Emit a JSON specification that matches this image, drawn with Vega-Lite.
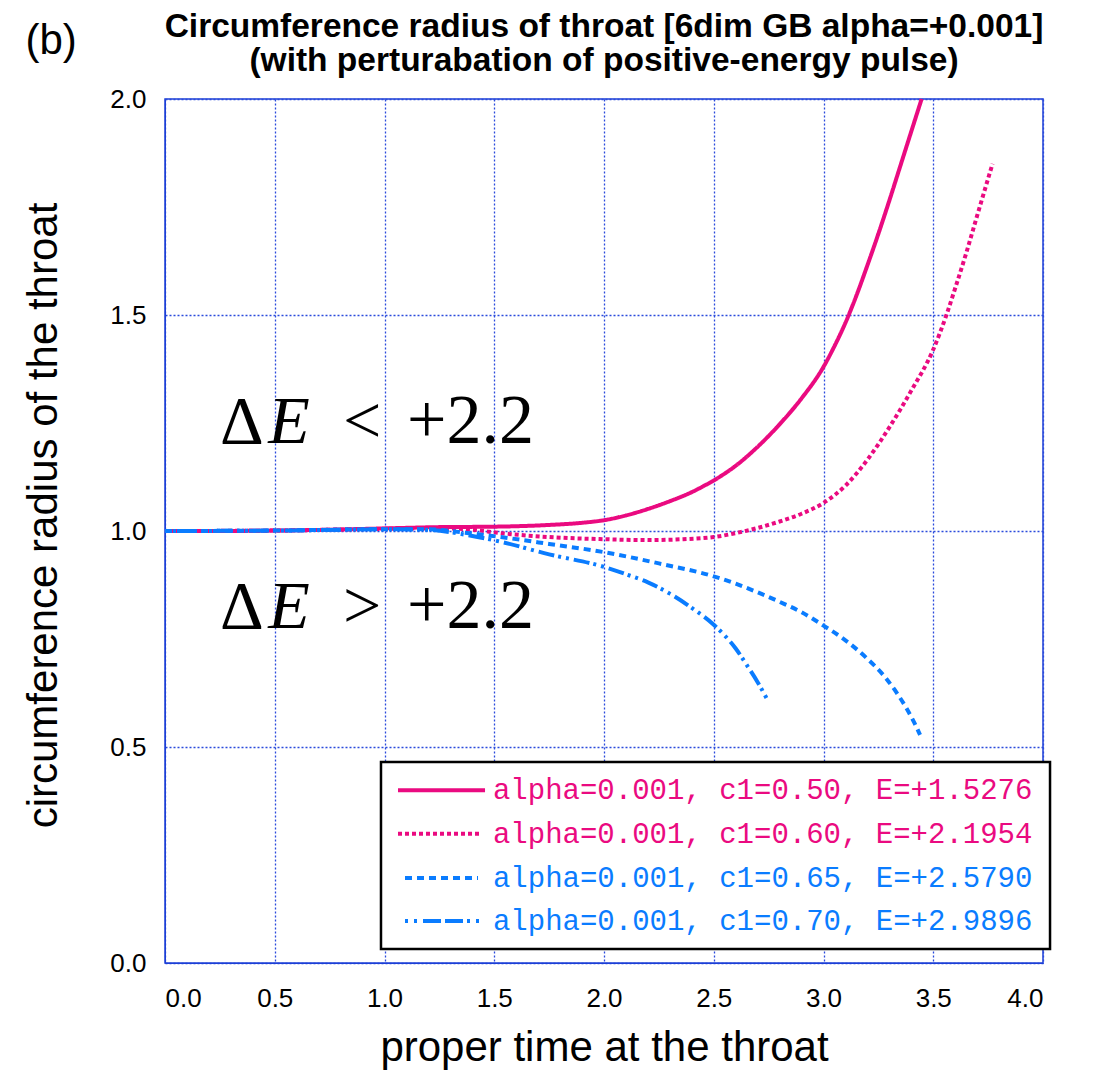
{
  "$schema": "https://vega.github.io/schema/vega-lite/v6.json",
  "width": 878,
  "height": 864,
  "autosize": {"type": "none"},
  "padding": {"left": 165, "top": 99, "right": 51, "bottom": 107},
  "background": "white",
  "data": {"values": [{}]},
  "config": {
    "view": {"stroke": "#1c3fd6", "strokeWidth": 1.5},
    "axis": {
      "labelFont": "Liberation Sans",
      "titleFont": "Liberation Sans",
      "labelColor": "black",
      "titleColor": "black",
      "titleFontWeight": "normal",
      "domainColor": "#1c3fd6",
      "gridColor": "#2a4bdc",
      "gridDash": [2, 2],
      "gridWidth": 1.3,
      "gridOpacity": 1,
      "ticks": false
    }
  },
  "datasets": {
    "curves": [
      {"t": 0.0, "r": 1.0, "series": "c1=0.50"},
      {"t": 0.25, "r": 1.0, "series": "c1=0.50"},
      {"t": 0.5, "r": 1.001, "series": "c1=0.50"},
      {"t": 0.75, "r": 1.003, "series": "c1=0.50"},
      {"t": 1.0, "r": 1.006, "series": "c1=0.50"},
      {"t": 1.25, "r": 1.009, "series": "c1=0.50"},
      {"t": 1.5, "r": 1.01, "series": "c1=0.50"},
      {"t": 1.75, "r": 1.014, "series": "c1=0.50"},
      {"t": 1.9, "r": 1.019, "series": "c1=0.50"},
      {"t": 2.0, "r": 1.025, "series": "c1=0.50"},
      {"t": 2.1, "r": 1.036, "series": "c1=0.50"},
      {"t": 2.2, "r": 1.051, "series": "c1=0.50"},
      {"t": 2.3, "r": 1.069, "series": "c1=0.50"},
      {"t": 2.4, "r": 1.09, "series": "c1=0.50"},
      {"t": 2.45, "r": 1.103, "series": "c1=0.50"},
      {"t": 2.5, "r": 1.117, "series": "c1=0.50"},
      {"t": 2.55, "r": 1.133, "series": "c1=0.50"},
      {"t": 2.6, "r": 1.151, "series": "c1=0.50"},
      {"t": 2.7, "r": 1.195, "series": "c1=0.50"},
      {"t": 2.8, "r": 1.247, "series": "c1=0.50"},
      {"t": 2.9, "r": 1.307, "series": "c1=0.50"},
      {"t": 3.0, "r": 1.38, "series": "c1=0.50"},
      {"t": 3.05, "r": 1.428, "series": "c1=0.50"},
      {"t": 3.1, "r": 1.482, "series": "c1=0.50"},
      {"t": 3.15, "r": 1.545, "series": "c1=0.50"},
      {"t": 3.2, "r": 1.615, "series": "c1=0.50"},
      {"t": 3.25, "r": 1.688, "series": "c1=0.50"},
      {"t": 3.3, "r": 1.765, "series": "c1=0.50"},
      {"t": 3.35, "r": 1.845, "series": "c1=0.50"},
      {"t": 3.4, "r": 1.925, "series": "c1=0.50"},
      {"t": 3.447, "r": 2.0, "series": "c1=0.50"},

      {"t": 0.0, "r": 1.0, "series": "c1=0.60"},
      {"t": 0.5, "r": 1.001, "series": "c1=0.60"},
      {"t": 1.0, "r": 1.005, "series": "c1=0.60"},
      {"t": 1.25, "r": 1.006, "series": "c1=0.60"},
      {"t": 1.4, "r": 1.003, "series": "c1=0.60"},
      {"t": 1.53, "r": 0.995, "series": "c1=0.60"},
      {"t": 1.75, "r": 0.986, "series": "c1=0.60"},
      {"t": 2.0, "r": 0.981, "series": "c1=0.60"},
      {"t": 2.2, "r": 0.979, "series": "c1=0.60"},
      {"t": 2.36, "r": 0.981, "series": "c1=0.60"},
      {"t": 2.5, "r": 0.986, "series": "c1=0.60"},
      {"t": 2.6, "r": 0.995, "series": "c1=0.60"},
      {"t": 2.7, "r": 1.007, "series": "c1=0.60"},
      {"t": 2.8, "r": 1.022, "series": "c1=0.60"},
      {"t": 2.9, "r": 1.04, "series": "c1=0.60"},
      {"t": 3.0, "r": 1.065, "series": "c1=0.60"},
      {"t": 3.1, "r": 1.105, "series": "c1=0.60"},
      {"t": 3.2, "r": 1.165, "series": "c1=0.60"},
      {"t": 3.3, "r": 1.24, "series": "c1=0.60"},
      {"t": 3.4, "r": 1.325, "series": "c1=0.60"},
      {"t": 3.5, "r": 1.42, "series": "c1=0.60"},
      {"t": 3.56, "r": 1.5, "series": "c1=0.60"},
      {"t": 3.6, "r": 1.562, "series": "c1=0.60"},
      {"t": 3.65, "r": 1.643, "series": "c1=0.60"},
      {"t": 3.7, "r": 1.73, "series": "c1=0.60"},
      {"t": 3.77, "r": 1.85, "series": "c1=0.60"},

      {"t": 0.0, "r": 1.0, "series": "c1=0.65"},
      {"t": 0.5, "r": 1.001, "series": "c1=0.65"},
      {"t": 1.0, "r": 1.004, "series": "c1=0.65"},
      {"t": 1.2, "r": 1.004, "series": "c1=0.65"},
      {"t": 1.35, "r": 0.997, "series": "c1=0.65"},
      {"t": 1.53, "r": 0.986, "series": "c1=0.65"},
      {"t": 1.75, "r": 0.97, "series": "c1=0.65"},
      {"t": 2.0, "r": 0.951, "series": "c1=0.65"},
      {"t": 2.25, "r": 0.925, "series": "c1=0.65"},
      {"t": 2.5, "r": 0.895, "series": "c1=0.65"},
      {"t": 2.6, "r": 0.878, "series": "c1=0.65"},
      {"t": 2.7, "r": 0.858, "series": "c1=0.65"},
      {"t": 2.8, "r": 0.836, "series": "c1=0.65"},
      {"t": 2.9, "r": 0.812, "series": "c1=0.65"},
      {"t": 3.0, "r": 0.781, "series": "c1=0.65"},
      {"t": 3.1, "r": 0.747, "series": "c1=0.65"},
      {"t": 3.2, "r": 0.704, "series": "c1=0.65"},
      {"t": 3.28, "r": 0.662, "series": "c1=0.65"},
      {"t": 3.33, "r": 0.628, "series": "c1=0.65"},
      {"t": 3.38, "r": 0.588, "series": "c1=0.65"},
      {"t": 3.41, "r": 0.56, "series": "c1=0.65"},
      {"t": 3.44, "r": 0.528, "series": "c1=0.65"},

      {"t": 0.0, "r": 1.0, "series": "c1=0.70"},
      {"t": 0.5, "r": 1.001, "series": "c1=0.70"},
      {"t": 1.0, "r": 1.004, "series": "c1=0.70"},
      {"t": 1.2, "r": 1.003, "series": "c1=0.70"},
      {"t": 1.35, "r": 0.993, "series": "c1=0.70"},
      {"t": 1.53, "r": 0.975, "series": "c1=0.70"},
      {"t": 1.75, "r": 0.946, "series": "c1=0.70"},
      {"t": 2.0, "r": 0.917, "series": "c1=0.70"},
      {"t": 2.1, "r": 0.9, "series": "c1=0.70"},
      {"t": 2.2, "r": 0.881, "series": "c1=0.70"},
      {"t": 2.3, "r": 0.855, "series": "c1=0.70"},
      {"t": 2.4, "r": 0.822, "series": "c1=0.70"},
      {"t": 2.5, "r": 0.783, "series": "c1=0.70"},
      {"t": 2.55, "r": 0.758, "series": "c1=0.70"},
      {"t": 2.6, "r": 0.728, "series": "c1=0.70"},
      {"t": 2.65, "r": 0.69, "series": "c1=0.70"},
      {"t": 2.7, "r": 0.65, "series": "c1=0.70"},
      {"t": 2.75, "r": 0.604, "series": "c1=0.70"}
    ]
  },
  "layer": [
    {
      "data": {"name": "curves"},
      "mark": {"type": "line", "strokeWidth": 4, "strokeCap": "butt", "interpolate": "monotone"},
      "encoding": {
        "x": {
          "field": "t", "type": "quantitative",
          "scale": {"domain": [0, 4], "nice": false},
          "axis": {
            "title": "proper time at the throat",
            "values": [0, 0.5, 1, 1.5, 2, 2.5, 3, 3.5, 4],
            "format": ".1f",
            "labelFontSize": 26,
            "labelPadding": 22,
            "titleFontSize": 42,
            "titlePadding": 16
          }
        },
        "y": {
          "field": "r", "type": "quantitative",
          "scale": {"domain": [0, 2], "nice": false},
          "axis": {
            "title": "circumference radius of the throat",
            "values": [0, 0.5, 1, 1.5, 2],
            "format": ".1f",
            "labelFontSize": 26,
            "labelPadding": 19,
            "titleFontSize": 42,
            "titlePadding": 44,
            "titleY": 416
          }
        },
        "color": {
          "field": "series", "type": "nominal",
          "scale": {"domain": ["c1=0.50", "c1=0.60", "c1=0.65", "c1=0.70"], "range": ["#ea0a80", "#ea0a80", "#0a7cff", "#0a7cff"]},
          "legend": null
        },
        "strokeDash": {
          "field": "series", "type": "nominal",
          "scale": {"domain": ["c1=0.50", "c1=0.60", "c1=0.65", "c1=0.70"], "range": [[1, 0], [4, 3], [7, 5], [3, 5, 3, 5, 16, 4]]},
          "legend": null
        }
      }
    },
    {
      "mark": {"type": "rect", "fill": "white", "stroke": "black", "strokeWidth": 2.5},
      "encoding": {
        "x": {"datum": 0.984, "type": "quantitative"},
        "x2": {"datum": 4.032},
        "y": {"datum": 0.4653, "type": "quantitative"},
        "y2": {"datum": 0.0324}
      }
    },
    {
      "mark": {"type": "rule", "stroke": "#ea0a80", "strokeWidth": 4},
      "encoding": {"x": {"datum": 1.0615, "type": "quantitative"}, "x2": {"datum": 1.458}, "y": {"datum": 0.4, "type": "quantitative"}}
    },
    {
      "mark": {"type": "rule", "stroke": "#ea0a80", "strokeWidth": 4, "strokeDash": [4, 3]},
      "encoding": {"x": {"datum": 1.0615, "type": "quantitative"}, "x2": {"datum": 1.444}, "y": {"datum": 0.299, "type": "quantitative"}}
    },
    {
      "mark": {"type": "rule", "stroke": "#0a7cff", "strokeWidth": 4, "strokeDash": [7, 5]},
      "encoding": {"x": {"datum": 1.0934, "type": "quantitative"}, "x2": {"datum": 1.426}, "y": {"datum": 0.197, "type": "quantitative"}}
    },
    {
      "mark": {"type": "rule", "stroke": "#0a7cff", "strokeWidth": 4, "strokeDash": [3, 6, 3, 6, 18, 4, 18, 4]},
      "encoding": {"x": {"datum": 1.0934, "type": "quantitative"}, "x2": {"datum": 1.435}, "y": {"datum": 0.097, "type": "quantitative"}}
    },
    {
      "mark": {"type": "text", "text": "alpha=0.001, c1=0.50, E=+1.5276", "align": "left", "baseline": "middle", "font": "Liberation Mono", "fontSize": 29, "fill": "#ea0a80"},
      "encoding": {"x": {"datum": 1.494, "type": "quantitative"}, "y": {"datum": 0.4, "type": "quantitative"}}
    },
    {
      "mark": {"type": "text", "text": "alpha=0.001, c1=0.60, E=+2.1954", "align": "left", "baseline": "middle", "font": "Liberation Mono", "fontSize": 29, "fill": "#ea0a80"},
      "encoding": {"x": {"datum": 1.494, "type": "quantitative"}, "y": {"datum": 0.299, "type": "quantitative"}}
    },
    {
      "mark": {"type": "text", "text": "alpha=0.001, c1=0.65, E=+2.5790", "align": "left", "baseline": "middle", "font": "Liberation Mono", "fontSize": 29, "fill": "#0a7cff"},
      "encoding": {"x": {"datum": 1.494, "type": "quantitative"}, "y": {"datum": 0.197, "type": "quantitative"}}
    },
    {
      "mark": {"type": "text", "text": "alpha=0.001, c1=0.70, E=+2.9896", "align": "left", "baseline": "middle", "font": "Liberation Mono", "fontSize": 29, "fill": "#0a7cff"},
      "encoding": {"x": {"datum": 1.494, "type": "quantitative"}, "y": {"datum": 0.097, "type": "quantitative"}}
    },
    {
      "mark": {"type": "text", "text": "Δ", "align": "left", "baseline": "alphabetic", "font": "Liberation Serif", "fontSize": 68, "fill": "black"},
      "encoding": {"x": {"datum": 0.2506, "type": "quantitative"}, "y": {"datum": 1.204, "type": "quantitative"}}
    },
    {
      "mark": {"type": "text", "text": "E", "align": "left", "baseline": "alphabetic", "font": "Liberation Serif", "fontStyle": "italic", "fontSize": 68, "fill": "black"},
      "encoding": {"x": {"datum": 0.47, "type": "quantitative"}, "y": {"datum": 1.204, "type": "quantitative"}}
    },
    {
      "mark": {"type": "text", "text": "<", "align": "left", "baseline": "alphabetic", "font": "Liberation Serif", "fontSize": 68, "fill": "black"},
      "encoding": {"x": {"datum": 0.811, "type": "quantitative"}, "y": {"datum": 1.204, "type": "quantitative"}}
    },
    {
      "mark": {"type": "text", "text": "+2.2", "align": "left", "baseline": "alphabetic", "font": "Liberation Serif", "fontSize": 70, "fill": "black"},
      "encoding": {"x": {"datum": 1.1025, "type": "quantitative"}, "y": {"datum": 1.204, "type": "quantitative"}}
    },
    {
      "mark": {"type": "text", "text": "Δ", "align": "left", "baseline": "alphabetic", "font": "Liberation Serif", "fontSize": 68, "fill": "black"},
      "encoding": {"x": {"datum": 0.2506, "type": "quantitative"}, "y": {"datum": 0.775, "type": "quantitative"}}
    },
    {
      "mark": {"type": "text", "text": "E", "align": "left", "baseline": "alphabetic", "font": "Liberation Serif", "fontStyle": "italic", "fontSize": 68, "fill": "black"},
      "encoding": {"x": {"datum": 0.47, "type": "quantitative"}, "y": {"datum": 0.775, "type": "quantitative"}}
    },
    {
      "mark": {"type": "text", "text": ">", "align": "left", "baseline": "alphabetic", "font": "Liberation Serif", "fontSize": 68, "fill": "black"},
      "encoding": {"x": {"datum": 0.811, "type": "quantitative"}, "y": {"datum": 0.775, "type": "quantitative"}}
    },
    {
      "mark": {"type": "text", "text": "+2.2", "align": "left", "baseline": "alphabetic", "font": "Liberation Serif", "fontSize": 70, "fill": "black"},
      "encoding": {"x": {"datum": 1.1025, "type": "quantitative"}, "y": {"datum": 0.775, "type": "quantitative"}}
    },
    {
      "mark": {"type": "text", "text": "(b)", "align": "center", "baseline": "middle", "font": "Liberation Sans", "fontSize": 42, "fill": "black"},
      "encoding": {"x": {"datum": -0.519, "type": "quantitative"}, "y": {"datum": 2.134, "type": "quantitative"}}
    },
    {
      "mark": {"type": "text", "text": "Circumference radius of throat [6dim GB alpha=+0.001]", "align": "center", "baseline": "alphabetic", "font": "Liberation Sans", "fontWeight": "bold", "fontSize": 33.5, "fill": "black"},
      "encoding": {"x": {"datum": 2.0, "type": "quantitative"}, "y": {"datum": 2.1435, "type": "quantitative"}}
    },
    {
      "mark": {"type": "text", "text": "(with perturabation of positive-energy pulse)", "align": "center", "baseline": "alphabetic", "font": "Liberation Sans", "fontWeight": "bold", "fontSize": 33.5, "fill": "black"},
      "encoding": {"x": {"datum": 2.0, "type": "quantitative"}, "y": {"datum": 2.0648, "type": "quantitative"}}
    }
  ]
}
